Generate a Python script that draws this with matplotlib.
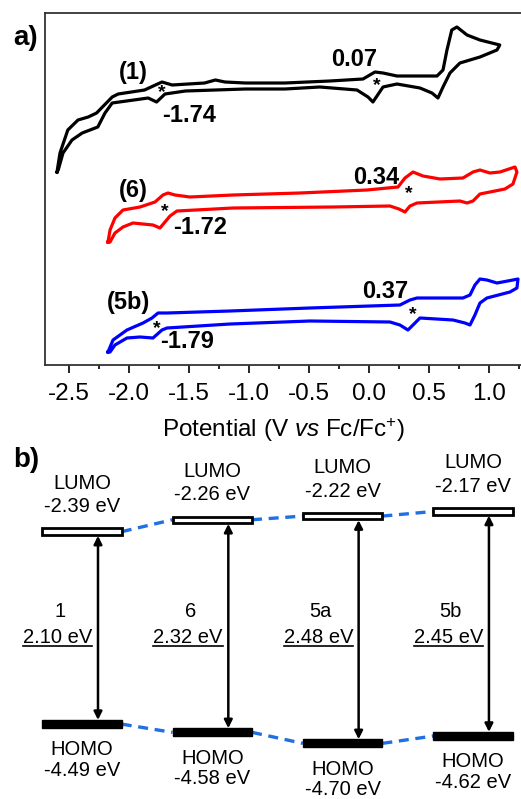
import numpy as np
import matplotlib.pyplot as plt
from matplotlib.lines import Line2D
from matplotlib.ticker import MultipleLocator

plt.rcParams['font.family'] = ['Liberation Sans', 'DejaVu Sans']
plt.rcParams['mathtext.fontset'] = 'custom'
plt.rcParams['mathtext.rm'] = 'Liberation Sans'
plt.rcParams['mathtext.it'] = 'Liberation Sans:italic'
plt.rcParams['axes.unicode_minus'] = False

# ---- a) cyclic voltammograms, potential (V vs Fc/Fc+) and current (a.u., offset) ----
cv1_E = [-2.60, -2.575, -2.51, -2.425, -2.34, -2.27, -2.14, -2.09, -1.87, -1.78, -1.725,
         -1.64, -1.37, -1.28, -1.20, -1.03, -0.70, -0.325, -0.05, 0.05, 0.117, 0.233,
         0.567, 0.617, 0.65, 0.69, 0.733, 0.817, 0.925, 1.09, 1.067, 0.925, 0.758, 0.675,
         0.617, 0.575, 0.525, 0.425, 0.233, 0.117, 0.033, -0.008, -0.10, -0.41, -0.70,
         -1.03, -1.53, -1.70, -1.77, -1.84, -2.14, -2.20, -2.26, -2.39, -2.475, -2.55, -2.59]
cv1_I = [1.93, 2.12, 2.35, 2.45, 2.48, 2.52, 2.68, 2.71, 2.75, 2.80, 2.83,
         2.80, 2.82, 2.85, 2.83, 2.82, 2.82, 2.84, 2.86, 2.93, 2.92, 2.89,
         2.89, 2.95, 3.15, 3.35, 3.38, 3.30, 3.25, 3.20, 3.15, 3.08, 3.02, 2.92,
         2.78, 2.67, 2.72, 2.77, 2.81, 2.78, 2.63, 2.68, 2.75, 2.78, 2.76,
         2.76, 2.74, 2.71, 2.63, 2.67, 2.62, 2.52, 2.38, 2.32, 2.25, 2.12, 1.95]

cv6_E = [-2.175, -2.158, -2.117, -2.05, -1.908, -1.783, -1.717, -1.675, -1.617, -1.492,
         -1.133, -0.575, -0.017, 0.242, 0.300, 0.367, 0.450, 0.592, 0.783, 0.867, 0.925,
         1.008, 1.092, 1.217, 1.233, 1.200, 1.133, 0.925, 0.867, 0.817, 0.758, 0.400,
         0.342, 0.300, 0.250, 0.175, -0.300, -1.133, -1.600, -1.658, -1.742, -1.800,
         -1.967, -2.050, -2.117, -2.158]
cv6_I = [1.23, 1.35, 1.47, 1.55, 1.58, 1.63, 1.70, 1.72, 1.70, 1.68,
         1.70, 1.72, 1.75, 1.78, 1.87, 1.93, 1.89, 1.86, 1.87, 1.93, 1.95,
         1.92, 1.93, 1.98, 1.93, 1.81, 1.76, 1.71, 1.64, 1.62, 1.64, 1.62,
         1.59, 1.53, 1.56, 1.59, 1.58, 1.57, 1.54, 1.49, 1.37, 1.40,
         1.42, 1.38, 1.32, 1.23]

cv5b_E = [-2.175, -2.133, -2.017, -1.883, -1.808, -1.758, -1.683, -1.158, -0.492, 0.258,
          0.342, 0.400, 0.483, 0.783, 0.842, 0.883, 0.925, 0.983, 1.067, 1.200, 1.242,
          1.233, 1.175, 0.983, 0.925, 0.883, 0.842, 0.800, 0.700, 0.425, 0.367, 0.325,
          0.258, 0.175, -0.492, -1.158, -1.683, -1.725, -1.800, -1.908, -2.017, -2.117,
          -2.158]
cv5b_I = [0.13, 0.25, 0.35, 0.42, 0.47, 0.52, 0.52, 0.54, 0.57, 0.60,
          0.65, 0.67, 0.67, 0.67, 0.70, 0.80, 0.86, 0.85, 0.82, 0.85, 0.86,
          0.77, 0.73, 0.67, 0.62, 0.50, 0.40, 0.42, 0.45, 0.47, 0.40, 0.35,
          0.40, 0.43, 0.44, 0.41, 0.37, 0.35, 0.27, 0.28, 0.27, 0.20,
          0.13]

cv_colors = ['black', '#ff0000', '#0000ff']

peak_labels = ['(1)', '0.07', '-1.74', '(6)', '0.34', '-1.72', '(5b)', '0.37', '-1.79']
peak_label_pos = [(-1.967, 2.92), (-0.125, 3.05), (-1.50, 2.50),
                  (-1.967, 1.75), (0.058, 1.88), (-1.408, 1.38),
                  (-2.008, 0.62), (0.133, 0.73), (-1.517, 0.23)]
star_pos = [(-1.725, 2.72), (0.067, 2.79), (-1.70, 1.53), (0.333, 1.71), (-1.767, 0.36), (0.367, 0.50)]

# ---- b) energy levels ----
compounds = ['1', '6', '5a', '5b']
lumo = [-2.39, -2.26, -2.22, -2.17]
homo = [-4.49, -4.58, -4.70, -4.62]
gap = [2.10, 2.32, 2.48, 2.45]

fig = plt.figure(figsize=(5.21, 7.99), dpi=100)

# top panel
ax = fig.add_axes([45/521, 1-365/799, 1-45/521, (365-13)/799])
for E, I, c in zip([cv1_E, cv6_E, cv5b_E], [cv1_I, cv6_I, cv5b_I], cv_colors):
    ax.plot(E + E[:1], I + I[:1], color=c, lw=2.3, solid_joinstyle='round')
for lab, (x, y) in zip(peak_labels, peak_label_pos):
    ax.text(x, y, lab, fontsize=17, fontweight='bold', ha='center', va='center')
for (x, y) in star_pos:
    ax.text(x, y, '*', fontsize=14, fontweight='bold', ha='center', va='center')
ax.set_xlim(-2.7, 1.267)
ax.set_ylim(0, 3.52)
ax.set_yticks([])
ax.xaxis.set_major_locator(MultipleLocator(0.5))
ax.xaxis.set_minor_locator(MultipleLocator(0.25))
ax.tick_params(axis='x', which='major', direction='out', length=6, width=1.2, labelsize=17.5, pad=7)
ax.tick_params(axis='x', which='minor', direction='out', length=3, width=1.2)
ax.spines['right'].set_visible(False)
for s in ['left', 'top', 'bottom']:
    ax.spines[s].set_color('#333333')
    ax.spines[s].set_linewidth(1.3)
ax.set_xlabel(r'Potential (V $\mathit{vs}$ Fc/Fc$^{+}$)', fontsize=17.5, labelpad=8)
fig.text(13/521, 1-38/799, 'a)', fontsize=20, fontweight='bold', ha='left', va='center')

# bottom panel
bx = fig.add_axes([0, 0, 1, (799-440)/799])
bx.set_xlim(-0.629, 3.369)
bx.set_ylim(-5.307, -1.39)
bx.axis('off')
w = 0.61
hl = 0.07
hh = 0.09
xs = np.arange(len(compounds))
bx.bar(xs, [hl]*4, bottom=np.array(lumo)-hl/2, width=w, facecolor='white', edgecolor='black', lw=2, zorder=3)
bx.bar(xs, [hh]*4, bottom=np.array(homo)-hh/2, width=w, facecolor='black', edgecolor='black', lw=1, zorder=3)
for i in range(len(compounds)-1):
    bx.plot([xs[i]+w/2, xs[i+1]-w/2], [lumo[i], lumo[i+1]], color='#1f6fe5', lw=2.4, dashes=(3, 2), zorder=2)
    bx.plot([xs[i]+w/2, xs[i+1]-w/2], [homo[i], homo[i+1]], color='#1f6fe5', lw=2.4, dashes=(3, 2), zorder=2)
underlined = []
for i in range(len(compounds)):
    ax_x = xs[i] + 0.123
    bx.annotate('', xy=(ax_x, lumo[i]-hl/2-0.01), xytext=(ax_x, homo[i]+hh/2),
                arrowprops=dict(arrowstyle='<|-|>', color='black', lw=1.8, mutation_scale=12,
                                shrinkA=0, shrinkB=0))
    bx.annotate('LUMO', (xs[i], lumo[i]), xytext=(0, 35), textcoords='offset points',
                ha='center', va='center', fontsize=14.5)
    bx.annotate('%.2f eV' % lumo[i], (xs[i], lumo[i]), xytext=(0, 18), textcoords='offset points',
                ha='center', va='center', fontsize=14.5)
    bx.annotate('HOMO', (xs[i], homo[i]), xytext=(0, -18.5), textcoords='offset points',
                ha='center', va='center', fontsize=14.5)
    bx.annotate('%.2f eV' % homo[i], (xs[i], homo[i]), xytext=(0, -33.5), textcoords='offset points',
                ha='center', va='center', fontsize=14.5)
    bx.text(xs[i]-0.17, -3.266, compounds[i], ha='center', va='center', fontsize=14.5)
    t = bx.text(xs[i]-0.185, -3.54, '%.2f eV' % gap[i], ha='center', va='center', fontsize=14.5)
    underlined.append(t)
fig.text(13/521, 1-460/799, 'b)', fontsize=20, fontweight='bold', ha='left', va='center')

fig.canvas.draw()
r = fig.canvas.get_renderer()
for t in underlined:
    bb = t.get_window_extent(r)
    y = bb.y0 + 1
    fig.add_artist(Line2D([bb.x0/521, bb.x1/521], [y/799, y/799], color='black', lw=1.2))

fig.savefig('out.png', dpi=100)
